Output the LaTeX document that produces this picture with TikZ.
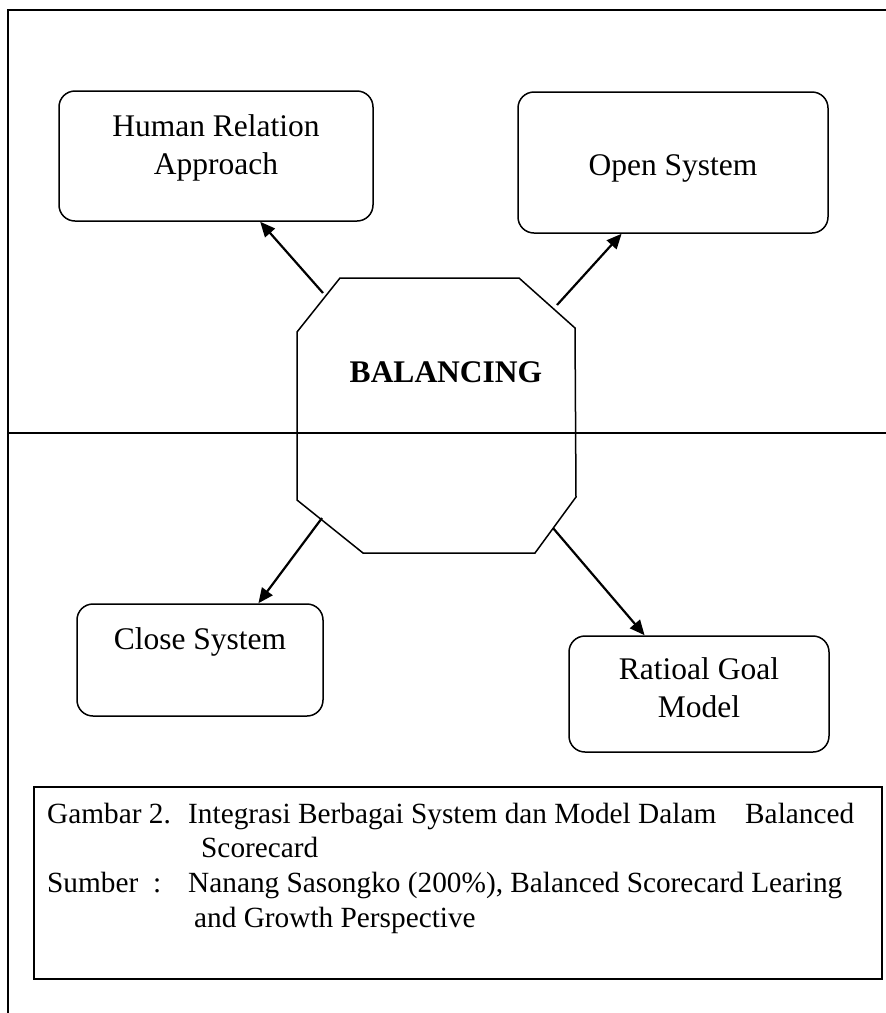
\documentclass[tikz,border=0pt]{standalone}
\usepackage{fontspec}
\setmainfont{Liberation Serif}
\usetikzlibrary{arrows.meta,calc}
\tikzset{
  frameline/.style={line width=1.5pt},
  roundbox/.style={draw, line width=1.5pt, rounded corners=16pt, inner sep=0pt},
  boxtext/.style={anchor=base, inner sep=0pt, font=\fontsize{31.5}{38}\selectfont},
  captext/.style={anchor=base west, inner sep=0pt, font=\fontsize{29.3}{35}\selectfont},
  arr/.style={line width=2.2pt, -{Triangle[length=15pt,width=13pt]}},
}
\begin{document}
\begin{tikzpicture}[x=1pt,y=-1pt]
\useasboundingbox (0,0) rectangle (886,1013);

% page frame and dividing line
\coordinate (fbl) at (8,1013);
\coordinate (ftl) at (8,10);
\coordinate (ftr) at (886,10);
\coordinate (ml) at (8,433);
\coordinate (mr) at (886,433);
\draw[frameline] (fbl) -- (ftl) -- (ftr);
\draw[frameline] (ml) -- (mr);

% rounded boxes
\node[roundbox, minimum width=314pt, minimum height=130pt] (hr) at (216,156) {};
\node[roundbox, minimum width=310pt, minimum height=141pt] (os) at (673,162.5) {};
\node[roundbox, minimum width=246pt, minimum height=112pt] (cs) at (200,660) {};
\node[roundbox, minimum width=260pt, minimum height=116pt] (rg) at (699,694) {};

\node[boxtext] (hrt1) at (216,136) {Human Relation};
\node[boxtext] (hrt2) at (216,174) {Approach};
\node[boxtext] (ost) at (673,175) {Open System};
\node[boxtext] (cst) at (200,649) {Close System};
\node[boxtext] (rgt1) at (699,679) {Ratioal Goal};
\node[boxtext] (rgt2) at (699,717) {Model};

% central octagon
\coordinate (oa) at (340,278);
\coordinate (ob) at (519,278);
\coordinate (oc) at (575,328);
\coordinate (od) at (576,497);
\coordinate (oe) at (535,553);
\coordinate (of) at (363,553);
\coordinate (og) at (297,500);
\coordinate (oh) at (297,332);
\draw[line width=1.5pt, line join=miter] (oa) -- (ob) -- (oc) -- (od) -- (oe) -- (of) -- (og) -- (oh) -- cycle;
\node[anchor=base, inner sep=0pt, font=\fontsize{31.5}{38}\selectfont\bfseries] (bal) at (446,382) {BALANCING};

% connectors
\coordinate (s1) at (323,293);
\coordinate (s2) at (557,305);
\coordinate (s3) at (322,518);
\coordinate (s4) at (553,528);
\draw[arr] (s1) -- ($(hr.south west)!0.64!(hr.south east)$);
\draw[arr] (s2) -- ($(os.south west)!0.335!(os.south east)$);
\draw[arr] (s3) -- ($(cs.north west)!0.736!(cs.north east)$);
\draw[arr] (s4) -- ($(rg.north west)!0.292!(rg.north east)$);

% caption
\node[draw, line width=1.5pt, minimum width=848pt, minimum height=192pt, inner sep=0pt] (cap) at (458,883) {};
\node[captext] (c1a) at (47,823) {Gambar 2.};
\node[captext] (c1b) at (188,823) {Integrasi Berbagai System dan Model Dalam};
\node[captext] (c1c) at (745,823) {Balanced};
\node[captext] (c2) at (201,857) {Scorecard};
\node[captext] (c3a) at (47,892) {Sumber};
\node[captext] (c3b) at (153,892) {:};
\node[captext] (c3c) at (188,892) {Nanang Sasongko (200\%), Balanced Scorecard Learing};
\node[captext] (c4) at (194,927) {and Growth Perspective};
\end{tikzpicture}
\end{document}
